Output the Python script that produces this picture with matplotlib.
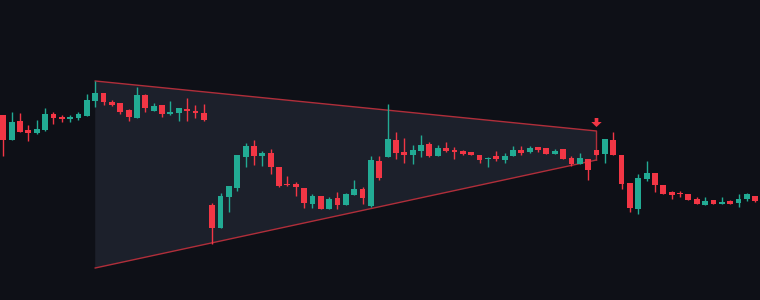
import matplotlib
matplotlib.use("Agg")
import matplotlib.pyplot as plt
from matplotlib.patches import Polygon

# candle data (open, high, low, close)
opens = [185, 160, 179, 170, 167, 170, 186, 183, 181, 182, 184, 199, 207, 198, 197, 190,
         182, 205, 189, 195, 186, 187, 191, 189, 187, 95, 72, 103, 112, 143, 154, 144,
         147, 133, 116, 116, 112, 96, 104, 91, 102, 95, 105, 111, 94, 139, 143, 160,
         148, 145, 149, 156, 144, 152, 150, 149, 148, 145, 141, 144, 140, 144, 150, 148,
         153, 152, 146, 151, 142, 136, 141, 150, 146, 160, 145, 117, 91, 121, 127, 115,
         108, 107, 106, 101, 95, 100, 96, 99, 97, 101, 104]
highs = [185, 188, 187, 175, 180, 192, 188, 185, 185, 188, 206, 219, 207, 200, 197, 191,
         213, 206, 197, 195, 199, 192, 202, 195, 196, 97, 107, 114, 145, 157, 160, 149,
         151, 133, 124, 118, 112, 106, 104, 103, 108, 107, 120, 113, 144, 144, 196, 168,
         162, 155, 165, 158, 155, 158, 153, 150, 148, 145, 143, 149, 147, 154, 154, 154,
         153, 152, 151, 151, 144, 147, 141, 150, 161, 168, 145, 117, 126, 139, 127, 115,
         109, 109, 106, 103, 103, 100, 103, 100, 106, 107, 104]
lows = [144, 160, 168, 159, 166, 169, 176, 178, 178, 180, 184, 193, 195, 194, 186, 179,
        182, 188, 189, 183, 185, 179, 179, 182, 179, 56, 72, 88, 109, 133, 135, 134,
        126, 113, 114, 104, 92, 92, 91, 91, 91, 95, 105, 96, 93, 120, 143, 141,
        137, 136, 143, 143, 144, 148, 141, 145, 145, 137, 133, 139, 137, 144, 145, 147,
        148, 146, 146, 141, 134, 136, 120, 145, 137, 145, 111, 88, 86, 119, 108, 106,
        101, 103, 100, 96, 95, 96, 96, 96, 93, 99, 98]
closes = [160, 178, 168, 167, 171, 186, 182, 181, 183, 186, 200, 207, 198, 195, 188, 183,
          205, 192, 194, 186, 188, 192, 189, 187, 180, 72, 104, 114, 145, 154, 144, 147,
          133, 114, 115, 113, 97, 104, 91, 101, 95, 106, 111, 102, 140, 122, 161, 147,
          145, 150, 155, 144, 152, 149, 148, 146, 145, 140, 142, 141, 144, 150, 147, 152,
          150, 146, 149, 141, 136, 142, 130, 145, 161, 145, 116, 92, 122, 127, 115, 106,
          105, 106, 100, 96, 99, 96, 98, 96, 101, 106, 99]

# triangle pattern corners (bar index, price)
tri_x = [11, 71, 71, 11]
tri_y = [219, 169, 140, 32]
signal_bar = 71
signal_top = 182
signal_tip = 173

bg = "#0e1017"
up = "#22ab94"
down = "#f23645"

fig = plt.figure(figsize=(7.6, 3.0), dpi=100, facecolor=bg)
ax = fig.add_axes([0, 0, 1, 1])
ax.set_facecolor(bg)

# triangle
ax.add_patch(Polygon(list(zip(tri_x, tri_y)), closed=True, facecolor="#1c202b",
                     edgecolor="none", zorder=1))
ax.plot(tri_x[:3], tri_y[:3], color="#b02e3a", lw=1, zorder=2)
ax.plot(tri_x[2:], tri_y[2:], color="#b02e3a", lw=1, zorder=2)

# candles
for i in range(len(opens)):
    o, h, l, c = opens[i], highs[i], lows[i], closes[i]
    col = up if c >= o else down
    ax.vlines(i, l, h, color=col, lw=1, zorder=3)
    bottom = min(o, c)
    height = max(abs(c - o), 1)
    ax.bar(i, height, bottom=bottom, width=0.7, color=col, lw=0, zorder=4)

# breakout arrow (shaft + head)
sw, hw = 0.22, 0.62
neck = signal_tip + 5
arrow = [(signal_bar - sw, signal_top), (signal_bar + sw, signal_top),
         (signal_bar + sw, neck), (signal_bar + hw, neck), (signal_bar, signal_tip),
         (signal_bar - hw, neck), (signal_bar - sw, neck)]
ax.add_patch(Polygon(arrow, closed=True, facecolor=down, edgecolor="none", zorder=5))

ax.set_xlim(-0.395, 90.57)
ax.set_ylim(0, 300)
ax.axis("off")

fig.savefig("out.png", dpi=100, facecolor=bg)
